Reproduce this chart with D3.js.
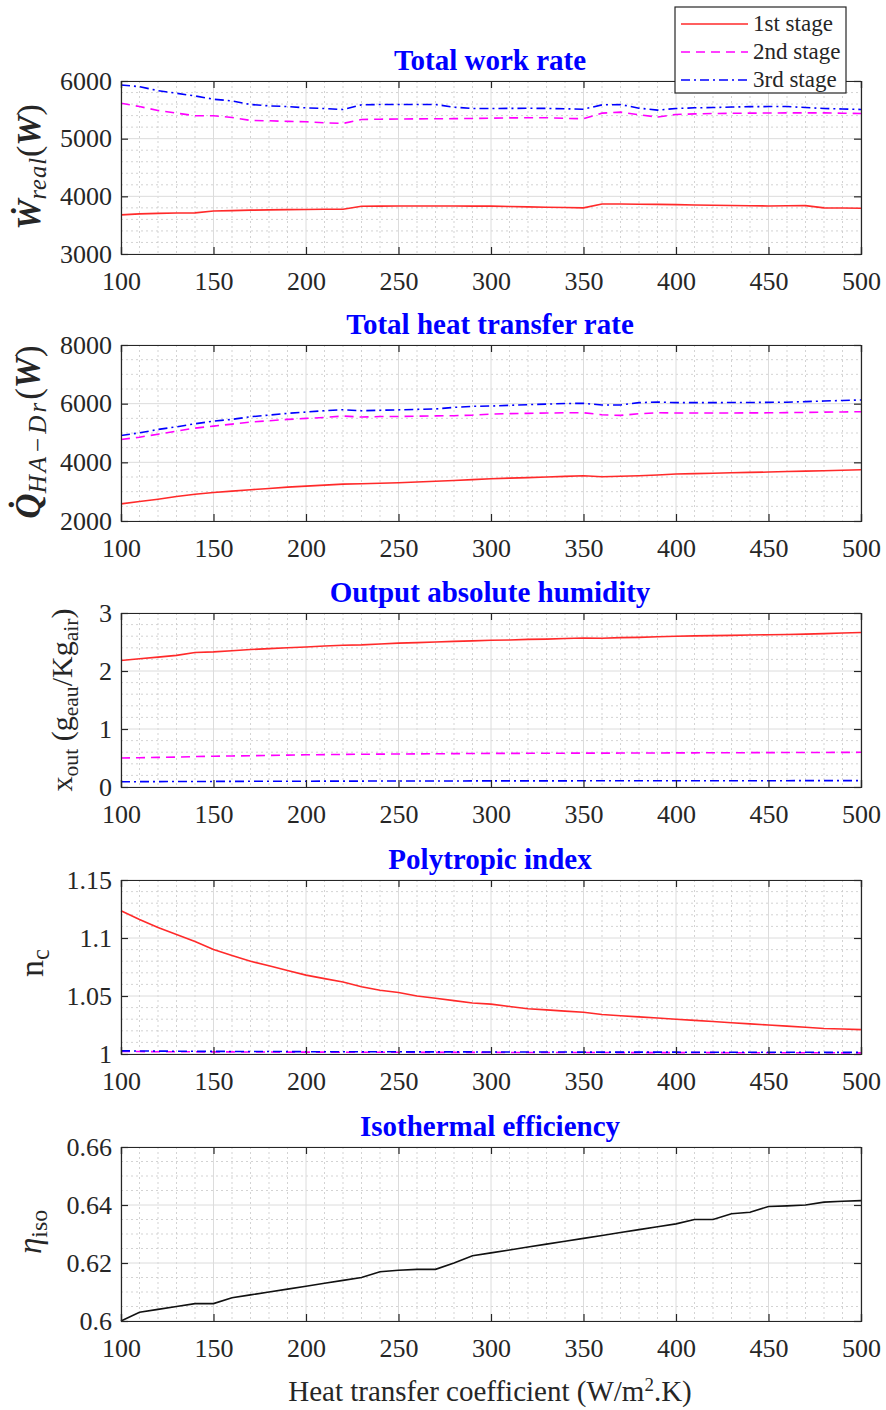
<!DOCTYPE html>
<html>
<head>
<meta charset="utf-8">
<script src="https://cdn.jsdelivr.net/npm/d3@7/dist/d3.min.js"></script>
<style>
  body { margin: 0; background: #fff; }
  svg text { font-family: "Liberation Serif", "Times New Roman", serif; fill: #262626; }
</style>
</head>
<body>
<svg id="chart" width="886" height="1410"></svg>
<script>
// heat transfer coefficient (W/m2.K), one value every 10
var hValues = [100,110,120,130,140,150,160,170,180,190,200,210,220,230,240,250,260,270,280,290,300,
               310,320,330,340,350,360,370,380,390,400,410,420,430,440,450,460,470,480,490,500];
var xTicks = [100,150,200,250,300,350,400,450,500];
var stageNames = ["1st stage", "2nd stage", "3rd stage"];

// total work rate (W)
var work1 = [3678,3695,3705,3712,3713,3745,3752,3760,3765,3770,3772,3775,3776,3828,3830,3832,3833,3833,3832,3830,3830,
             3825,3818,3812,3806,3800,3868,3866,3864,3860,3856,3850,3845,3840,3836,3833,3836,3839,3800,3797,3793];
var work2 = [5615,5557,5489,5443,5397,5397,5368,5316,5310,5299,5293,5276,5264,5333,5338,5340,5343,5345,5347,5350,5356,
             5360,5362,5364,5352,5345,5443,5460,5414,5374,5420,5430,5436,5440,5443,5445,5447,5448,5447,5442,5437];
var work3 = [5931,5902,5833,5787,5741,5684,5655,5592,5569,5557,5534,5523,5506,5586,5592,5592,5592,5592,5546,5523,5523,
             5525,5527,5525,5518,5511,5586,5592,5529,5495,5523,5535,5540,5548,5555,5557,5557,5540,5523,5515,5506];

// total heat transfer rate (W)
var heat1 = [2583,2663,2743,2834,2914,2971,3017,3063,3109,3154,3189,3223,3257,3269,3286,3303,3330,3355,3380,3410,3440,
             3460,3480,3500,3520,3543,3509,3525,3545,3570,3600,3615,3630,3643,3656,3669,3685,3700,3715,3732,3749];
var heat2 = [4777,4857,4960,5063,5166,5234,5303,5371,5417,5463,5497,5531,5577,5543,5560,5565,5575,5585,5590,5610,5646,
             5660,5670,5680,5690,5691,5623,5600,5657,5691,5680,5680,5682,5684,5686,5688,5695,5700,5710,5718,5726];
var heat3 = [4914,5006,5120,5211,5314,5406,5463,5554,5611,5669,5714,5760,5794,5760,5775,5790,5806,5820,5874,5910,5920,
             5943,5966,5985,6005,6011,5954,5954,6034,6057,6034,6034,6036,6038,6040,6045,6050,6070,6090,6110,6126];

// output absolute humidity (g/kg)
var hum1 = [2.18,2.21,2.24,2.27,2.32,2.33,2.35,2.37,2.385,2.40,2.415,2.43,2.445,2.45,2.465,2.48,2.49,2.50,2.51,2.52,2.53,
            2.535,2.545,2.55,2.56,2.57,2.565,2.575,2.58,2.59,2.60,2.605,2.61,2.615,2.62,2.625,2.63,2.635,2.645,2.655,2.665];
var hum2 = [0.50,0.505,0.51,0.515,0.525,0.53,0.535,0.54,0.545,0.55,0.555,0.558,0.562,0.565,0.567,0.569,0.571,0.573,0.575,0.577,0.579,
            0.58,0.581,0.582,0.583,0.585,0.584,0.585,0.586,0.587,0.588,0.589,0.59,0.591,0.592,0.593,0.594,0.595,0.596,0.597,0.598];
var hum3 = [0.090,0.092,0.093,0.094,0.095,0.096,0.097,0.098,0.099,0.100,0.100,0.101,0.102,0.102,0.103,0.103,0.104,0.104,0.104,0.105,0.105,
            0.105,0.106,0.106,0.106,0.107,0.107,0.107,0.107,0.108,0.108,0.108,0.108,0.109,0.109,0.109,0.109,0.110,0.110,0.110,0.110];

// polytropic index
var poly1 = [1.1235,1.116,1.109,1.103,1.097,1.090,1.085,1.080,1.076,1.072,1.068,1.065,1.062,1.058,1.055,1.053,1.050,1.048,1.046,1.044,1.043,
             1.041,1.039,1.038,1.037,1.036,1.034,1.033,1.032,1.031,1.030,1.029,1.028,1.027,1.026,1.025,1.024,1.023,1.022,1.0215,1.021];
var poly2 = [1.0022,1.0021,1.0020,1.0019,1.0019,1.0018,1.0018,1.0017,1.0017,1.0016,1.0016,1.0016,1.0015,1.0015,1.0015,1.0015,1.0014,1.0014,1.0014,1.0014,1.0014,
             1.0013,1.0013,1.0013,1.0013,1.0013,1.0013,1.0012,1.0012,1.0012,1.0012,1.0012,1.0012,1.0011,1.0011,1.0011,1.0011,1.0011,1.0011,1.0010,1.0010];
var poly3 = [1.0027,1.0026,1.0025,1.0024,1.0023,1.0023,1.0022,1.0022,1.0021,1.0021,1.0020,1.0020,1.0020,1.0019,1.0019,1.0019,1.0018,1.0018,1.0018,1.0018,1.0017,
             1.0017,1.0017,1.0017,1.0017,1.0016,1.0016,1.0016,1.0016,1.0016,1.0016,1.0015,1.0015,1.0015,1.0015,1.0015,1.0015,1.0015,1.0014,1.0014,1.0014];

// isothermal efficiency
var iso = [0.600,0.603,0.604,0.605,0.606,0.606,0.608,0.609,0.610,0.611,0.612,0.613,0.614,0.615,0.617,0.6175,0.6178,0.6178,0.620,0.6225,0.6235,
           0.6245,0.6255,0.6265,0.6275,0.6285,0.6295,0.6305,0.6315,0.6325,0.6335,0.635,0.635,0.637,0.6375,0.6395,0.6397,0.640,0.641,0.6413,0.6415];

var left = 121, right = 861;
var serif = "Liberation Serif";
var stageStyle = [
    {color: "#ff2a2a", dash: null},
    {color: "#ff00ff", dash: "9,6"},
    {color: "#0000ff", dash: "9,4,2,4"}
];

// one entry per subplot
var panels = [
    {title: "Total work rate", top: 81, bottom: 254, domain: [3000, 6000], ticks: [3000,4000,5000,6000], minor: 200,
     series: [work1, work2, work3], fmt: d3.format("d")},
    {title: "Total heat transfer rate", top: 345, bottom: 521, domain: [2000, 8000], ticks: [2000,4000,6000,8000], minor: 500,
     series: [heat1, heat2, heat3], fmt: d3.format("d")},
    {title: "Output absolute humidity", top: 613, bottom: 787, domain: [0, 3], ticks: [0,1,2,3], minor: 0.2,
     series: [hum1, hum2, hum3], fmt: d3.format("d")},
    {title: "Polytropic index", top: 880, bottom: 1054, domain: [1, 1.15], ticks: [1,1.05,1.1,1.15], minor: 0.01,
     series: [poly1, poly2, poly3], fmt: function(d){ return String(+d.toFixed(2)); }},
    {title: "Isothermal efficiency", top: 1147, bottom: 1321, domain: [0.6, 0.66], ticks: [0.6,0.62,0.64,0.66], minor: 0.005,
     series: [iso], colors: ["#111"], fmt: function(d){ return String(+d.toFixed(2)); }}
];

var svg = d3.select("#chart");
var x = d3.scaleLinear().domain([100, 500]).range([left, right]);
var xMinor = hValues.filter(v => xTicks.indexOf(v) < 0);

panels.forEach(function(p, pi) {
    var y = d3.scaleLinear().domain(p.domain).range([p.bottom, p.top]);
    var g = svg.append("g");

    // minor grid (dotted)
    var yMinor = [];
    for (var k = 1; ; k++) {
        var v = p.domain[0] + k * p.minor;
        if (v >= p.domain[1] - p.minor / 10) break;
        var isMajor = p.ticks.some(t => Math.abs(t - v) < p.minor / 10);
        if (!isMajor) yMinor.push(v);
    }
    g.selectAll(".xminor").data(xMinor).enter().append("line")
        .attr("x1", d => x(d)).attr("x2", d => x(d)).attr("y1", p.top).attr("y2", p.bottom)
        .attr("stroke", "#c8c8c8").attr("stroke-width", 0.8).attr("stroke-dasharray", "2,3");
    g.selectAll(".yminor").data(yMinor).enter().append("line")
        .attr("x1", left).attr("x2", right).attr("y1", d => y(d)).attr("y2", d => y(d))
        .attr("stroke", "#c8c8c8").attr("stroke-width", 0.8).attr("stroke-dasharray", "2,3");
    // major grid
    g.selectAll(".xmajor").data(xTicks).enter().append("line")
        .attr("x1", d => x(d)).attr("x2", d => x(d)).attr("y1", p.top).attr("y2", p.bottom)
        .attr("stroke", "#dcdcdc").attr("stroke-width", 1);
    g.selectAll(".ymajor").data(p.ticks).enter().append("line")
        .attr("x1", left).attr("x2", right).attr("y1", d => y(d)).attr("y2", d => y(d))
        .attr("stroke", "#dcdcdc").attr("stroke-width", 1);

    // data lines
    var line = d3.line().x((d, i) => x(hValues[i])).y(d => y(d));
    p.series.forEach(function(s, si) {
        var st = stageStyle[si];
        g.append("path").datum(s)
            .attr("d", line)
            .attr("fill", "none")
            .attr("stroke", p.colors ? p.colors[si] : st.color)
            .attr("stroke-width", 1.6)
            .attr("stroke-dasharray", p.colors ? null : st.dash);
    });

    // axes, ticks pointing inward on all four sides
    var axB = g.append("g").attr("transform", "translate(0," + p.bottom + ")")
        .call(d3.axisBottom(x).tickValues(xTicks).tickSize(-7).tickPadding(18).tickFormat(d3.format("d")));
    var axT = g.append("g").attr("transform", "translate(0," + p.top + ")")
        .call(d3.axisTop(x).tickValues(xTicks).tickSize(-7).tickFormat(""));
    var axL = g.append("g").attr("transform", "translate(" + left + ",0)")
        .call(d3.axisLeft(y).tickValues(p.ticks).tickSize(-7).tickPadding(9).tickFormat(p.fmt));
    var axR = g.append("g").attr("transform", "translate(" + right + ",0)")
        .call(d3.axisRight(y).tickValues(p.ticks).tickSize(-7).tickFormat(""));
    [axB, axT, axL, axR].forEach(function(a) {
        a.attr("font-family", serif).attr("font-size", 26);
        a.select(".domain").attr("stroke", "#262626").attr("stroke-width", 1.2);
        a.selectAll(".tick line").attr("stroke", "#262626").attr("stroke-width", 1.2);
        a.selectAll("text").attr("fill", "#262626");
    });

    // title
    svg.append("text")
        .attr("x", (left + right) / 2 - 1)
        .attr("y", p.top - 11)
        .attr("text-anchor", "middle")
        .style("font-size", "29px")
        .style("font-weight", "bold")
        .style("fill", "#0000ff")
        .text(p.title);
});

// y axis labels
function ylabel(cx, cy, size, parts) {
    var t = svg.append("text")
        .attr("transform", "translate(" + cx + "," + cy + ") rotate(-90)")
        .attr("text-anchor", "middle")
        .style("font-size", size + "px")
        .style("fill", "#262626");
    parts.forEach(function(pt) {
        var ts = t.append("tspan").text(pt.t);
        if (pt.sub) ts.style("font-size", (size * (pt.scale || 0.72)) + "px").attr("baseline-shift", "-25%");
        if (pt.italic) ts.style("font-style", "italic");
        if (pt.bold) ts.style("font-weight", "bold");
        if (pt.ls) ts.style("letter-spacing", pt.ls + "px");
    });
}
ylabel(40, 167, 34, [{t: "\u1E86", bold: true, italic: true}, {t: "real", sub: true, italic: true, ls: 1}, {t: "(", italic: false}, {t: "W", italic: true, bold: true}, {t: ")"}]);
ylabel(40, 432, 35, [{t: "Q\u0307", bold: true, italic: true}, {t: "HA\u2212Dr", sub: true, italic: true, ls: 3}, {t: "(", italic: false}, {t: "W", italic: true, bold: true}, {t: ")"}]);
ylabel(72, 700, 30, [{t: "x"}, {t: "out", sub: true}, {t: " (g"}, {t: "eau", sub: true}, {t: "/Kg"}, {t: "air", sub: true}, {t: ")"}]);
ylabel(43, 963, 34, [{t: "n"}, {t: "c", sub: true}]);
ylabel(41, 1232, 33, [{t: "\u03B7", italic: true}, {t: "iso", sub: true}]);

// x axis label
var xl = svg.append("text")
    .attr("x", (left + right) / 2 - 1)
    .attr("y", 1401)
    .attr("text-anchor", "middle")
    .style("font-size", "29px")
    .style("fill", "#262626");
xl.append("tspan").text("Heat transfer coefficient (W/m");
xl.append("tspan").text("2").style("font-size", "19px").attr("baseline-shift", "super");
xl.append("tspan").text(".K)");

// legend
var lg = svg.append("g").attr("transform", "translate(675,7)");
lg.append("rect").attr("width", 171).attr("height", 86)
    .attr("fill", "#fff").attr("stroke", "#262626").attr("stroke-width", 1.2);
stageNames.forEach(function(name, i) {
    var yy = 17 + i * 28;
    lg.append("line").attr("x1", 6).attr("x2", 73).attr("y1", yy).attr("y2", yy)
        .attr("stroke", stageStyle[i].color).attr("stroke-width", 1.6)
        .attr("stroke-dasharray", stageStyle[i].dash);
    lg.append("text").attr("x", 78).attr("y", yy + 7).style("font-size", "23px").text(name);
});
</script>
</body>
</html>
